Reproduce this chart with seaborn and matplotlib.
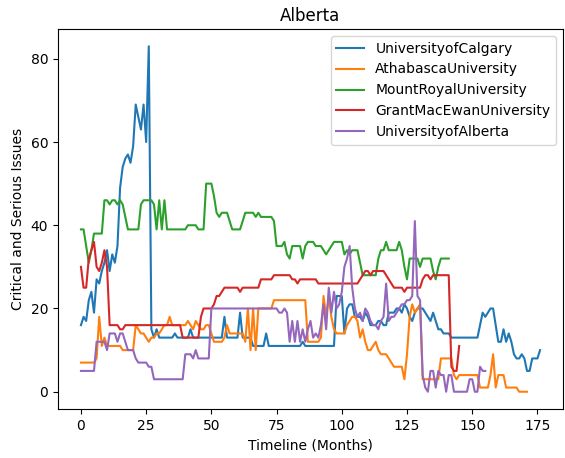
import matplotlib
matplotlib.use("Agg")
import matplotlib.pyplot as plt
import seaborn as sns
import pandas as pd

names = ["UniversityofCalgary", "AthabascaUniversity", "MountRoyalUniversity",
         "GrantMacEwanUniversity", "UniversityofAlberta"]

calgary = [16,18,17,22,24,19,27,26,29,31,
           34,29,33,31,35,49,54,56,57,55,
           59,69,66,63,69,60,83,15,13,15,
           13,13,13,13,13,13,14,13,13,13,
           13,13,15,13,13,13,13,13,13,13,
           13,13,13,13,13,18,13,13,13,13,
           13,19,13,13,13,13,11,11,11,11,
           11,14,11,11,11,11,11,11,11,11,
           11,11,11,11,11,12,11,11,11,11,
           11,11,11,11,11,11,11,11,23,23,
           23,14,20,21,21,18,18,18,17,19,
           18,16,16,16,17,17,16,16,19,19,
           19,20,20,19,21,20,18,17,19,20,
           20,20,19,18,17,19,17,15,15,14,
           14,14,13,13,13,13,13,13,13,13,
           13,13,13,16,19,18,19,20,20,16,
           12,12,15,12,14,12,9,8,8,9,
           8,5,5,8,8,8,10]

athabasca = [7,7,7,7,7,7,8,18,11,13,
             11,11,11,11,11,11,10,10,10,10,
             10,16,15,14,14,13,12,13,13,14,
             14,15,16,16,18,16,16,16,16,16,
             16,17,16,15,17,16,15,15,16,16,
             14,12,12,12,12,13,16,14,14,14,
             14,14,14,12,20,10,20,10,20,20,
             20,20,20,20,22,22,22,22,22,22,
             22,22,22,22,22,22,22,12,12,12,
             12,12,13,23,18,23,18,15,14,14,
             14,14,16,17,18,18,17,13,15,12,
             10,10,11,12,10,9,9,9,8,7,
             6,6,6,6,3,9,18,21,19,20,
             21,3,3,3,3,3,3,3,8,8,
             8,8,8,4,3,4,4,4,4,4,
             4,4,4,1,1,1,1,4,9,1,
             4,4,4,1,1,1,1,1,0,0,
             0,0]

mountroyal = [39,39,35,31,34,38,38,38,38,46,
              46,45,46,46,45,46,45,42,39,39,
              39,39,39,45,46,46,46,46,45,39,
              46,39,46,39,39,39,39,39,39,39,
              39,40,40,40,40,39,39,39,50,50,
              50,47,43,42,43,43,43,41,39,39,
              39,39,41,43,43,43,43,42,43,42,
              42,42,42,42,41,35,35,35,36,33,
              32,35,35,35,35,32,35,36,36,36,
              35,35,35,34,33,34,35,36,36,36,
              36,33,34,33,34,34,34,31,28,28,
              28,28,28,28,32,34,34,36,34,34,
              34,34,36,34,30,27,32,32,32,32,
              30,32,32,32,32,29,27,30,32,32,
              32,32]

grantmacewan = [30,25,25,32,34,36,30,29,31,34,
                30,16,16,16,16,15,15,16,16,16,
                16,16,16,16,16,16,16,16,16,16,
                16,16,16,16,16,16,16,16,16,13,
                13,13,13,13,13,13,18,20,20,20,
                20,21,23,23,24,25,25,25,25,25,
                25,24,25,25,25,25,25,25,25,27,
                27,27,27,27,28,28,28,28,28,28,
                28,27,27,26,27,27,27,27,27,27,
                27,26,26,26,26,26,26,26,26,26,
                26,26,26,26,26,26,26,27,28,29,
                29,28,29,29,29,29,29,28,27,26,
                25,25,25,25,24,25,25,25,25,25,
                25,27,28,28,27,28,28,28,28,28,
                28,28,6,5,5,11]

alberta = [5,5,5,5,5,5,12,12,12,12,
           10,14,14,14,12,14,14,12,10,10,
           10,8,7,7,7,7,6,6,3,3,
           3,3,3,3,3,3,3,3,3,3,
           9,9,9,8,10,8,8,8,8,8,
           20,20,20,20,20,20,20,20,20,20,
           20,20,20,20,20,20,20,20,20,20,
           20,20,20,20,20,20,19,19,20,19,
           12,17,12,17,12,15,12,15,17,13,
           14,13,16,21,15,25,19,24,20,21,
           24,30,32,35,25,20,18,19,17,20,
           19,17,16,16,15,17,18,26,17,18,
           18,19,20,21,21,22,22,23,41,23,
           22,4,1,0,5,5,1,5,4,4,
           0,4,4,0,0,0,0,0,0,3,
           3,0,0,6,5,5]

series = [calgary, athabasca, mountroyal, grantmacewan, alberta]

fig = plt.figure(figsize=(5.65, 4.58), dpi=100)
ax = fig.add_axes([58/565, 1 - 409/458, (563 - 58)/565, (409 - 29)/458])

for name, vals in zip(names, series):
    df = pd.DataFrame({"month": list(range(len(vals))), "value": vals})
    sns.lineplot(data=df, x="month", y="value", ax=ax, label=name, linewidth=1.5)

ax.set_title("Alberta", fontsize=12)
ax.set_xlabel("Timeline (Months)")
ax.set_ylabel("Critical and Serious Issues")
ax.legend(loc="upper right")

fig.savefig("out.png", dpi=100)
